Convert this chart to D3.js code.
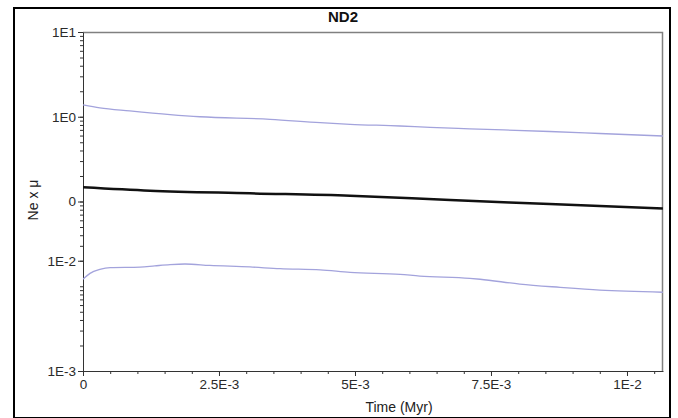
<!DOCTYPE html>
<html>
<head>
<meta charset="utf-8">
<script src="https://cdn.jsdelivr.net/npm/d3@7"></script>
<style>
  body { margin: 0; background: #fff; }
  text { font-family: "Liberation Sans", Arial, sans-serif; }
</style>
</head>
<body>
<div id="chart"></div>
<script>
// data (time in Myr, Ne x mu)
var upperTime = [0, 0.00031, 0.00086, 0.0016, 0.00215, 0.00344, 0.00436, 0.00491, 0.00583, 0.00638, 0.00711, 0.00858, 0.0095, 0.01066];
var upperVals = [1.38, 1.27, 1.17, 1.06, 1.0, 0.933, 0.851, 0.815, 0.778, 0.748, 0.72, 0.67, 0.634, 0.593];
var medianTime = [0, 0.00123, 0.00307, 0.00491, 0.00675, 0.00858, 0.01066];
var medianVals = [0.147, 0.134, 0.125, 0.117, 0.104, 0.0934, 0.0827];
var lowerTime = [0, 0.000129, 0.00031, 0.0005, 0.00105, 0.00132, 0.0016, 0.001875, 0.00233, 0.00307, 0.00362, 0.00436, 0.00491, 0.00583, 0.00619, 0.00711, 0.0073, 0.00803, 0.00877, 0.0095, 0.01066];
var lowerVals = [0.0121, 0.0142, 0.0158, 0.0166, 0.0168, 0.0174, 0.0180, 0.0183, 0.0176, 0.0169, 0.0161, 0.0156, 0.0146, 0.0138, 0.0132, 0.0124, 0.0121, 0.0106, 0.0097, 0.009, 0.0085];

var xTickValues = [0, 0.0025, 0.005, 0.0075, 0.01];
var xTickLabels = ["0", "2.5E-3", "5E-3", "7.5E-3", "1E-2"];
var yTickValues = [10, 1, 0.1, 0.02, 0.001];
var yTickLabels = ["1E1", "1E0", "0", "1E-2", "1E-3"];
var xDomain = [0, 0.010662];
var yDomain = [0.001, 10];

const W = 678, H = 418;
const margin = { top: 32, right: 15, bottom: 47, left: 83 },
  width = W - margin.left - margin.right,
  height = H - margin.top - margin.bottom;

const svg = d3.select("#chart").append("svg")
  .attr("width", W)
  .attr("height", H);

// outer frame
svg.append("rect")
  .attr("x", 14).attr("y", 8)
  .attr("width", 656).attr("height", 410)
  .attr("fill", "none")
  .attr("stroke", "#000")
  .attr("stroke-width", 2);

const g = svg.append("g")
  .attr("transform", `translate(${margin.left}, ${margin.top})`);

const x = d3.scaleLinear().domain(xDomain).range([0, width]);
const y = d3.scaleLog().domain(yDomain).range([height, 0]);

// plot box (top and right in grey)
g.append("path")
  .attr("d", `M0,0.5H${width - 0.5}V${height}`)
  .attr("fill", "none")
  .attr("stroke", "#808080")
  .attr("stroke-width", 1.5);

// minor ticks
var xMinor = d3.range(0, xDomain[1], 0.0005);
g.append("g")
  .attr("transform", `translate(0, ${height})`)
  .call(d3.axisBottom(x).tickValues(xMinor).tickSize(3).tickFormat(""))
  .call(function (a) { a.select(".domain").remove(); });

g.append("g")
  .call(d3.axisLeft(y).tickValues(y.ticks()).tickSize(3).tickFormat(""))
  .call(function (a) { a.select(".domain").remove(); });

// major axes
var xAxis = g.append("g")
  .attr("transform", `translate(0, ${height})`)
  .call(d3.axisBottom(x)
    .tickValues(xTickValues)
    .tickSize(5)
    .tickSizeOuter(0)
    .tickPadding(3)
    .tickFormat(function (d, i) { return xTickLabels[i]; }));

var yAxis = g.append("g")
  .call(d3.axisLeft(y)
    .tickValues(yTickValues)
    .tickSize(5)
    .tickSizeOuter(0)
    .tickPadding(2)
    .tickFormat(function (d, i) { return yTickLabels[i]; }));

[xAxis, yAxis].forEach(function (a) {
  a.selectAll("text")
    .attr("font-size", "13.5px")
    .attr("font-family", "'Liberation Sans', Arial, sans-serif")
    .attr("fill", "#2a2a2a");
  a.select(".domain").attr("stroke", "#333");
});

g.selectAll(".tick line").attr("stroke", "#333");

// lines
g.append("defs").append("clipPath")
  .attr("id", "clip")
  .append("rect")
  .attr("width", width)
  .attr("height", height);

const plot = g.append("g").attr("clip-path", "url(#clip)");

function series(times, vals) {
  return times.map(function (t, i) { return { t: t, v: vals[i] }; });
}

const lineGen = d3.line()
  .x(function (d) { return x(d.t); })
  .y(function (d) { return y(d.v); })
  .curve(d3.curveMonotoneX);

plot.append("path")
  .datum(series(upperTime, upperVals))
  .attr("fill", "none")
  .attr("stroke", "#a3a3dc")
  .attr("stroke-width", 1.3)
  .attr("d", lineGen);

plot.append("path")
  .datum(series(lowerTime, lowerVals))
  .attr("fill", "none")
  .attr("stroke", "#a3a3dc")
  .attr("stroke-width", 1.3)
  .attr("d", lineGen);

plot.append("path")
  .datum(series(medianTime, medianVals))
  .attr("fill", "none")
  .attr("stroke", "#111")
  .attr("stroke-width", 2.5)
  .attr("d", lineGen);

// titles
svg.append("text")
  .attr("x", 343)
  .attr("y", 22)
  .attr("text-anchor", "middle")
  .attr("font-size", "15px")
  .attr("font-weight", "bold")
  .attr("fill", "#111")
  .text("ND2");

svg.append("text")
  .attr("x", 399)
  .attr("y", 412)
  .attr("text-anchor", "middle")
  .attr("font-size", "14px")
  .attr("fill", "#222")
  .text("Time (Myr)");

svg.append("text")
  .attr("transform", "translate(38, 200) rotate(-90)")
  .attr("text-anchor", "middle")
  .attr("font-size", "14px")
  .attr("fill", "#222")
  .text("Ne x μ");
</script>
</body>
</html>
